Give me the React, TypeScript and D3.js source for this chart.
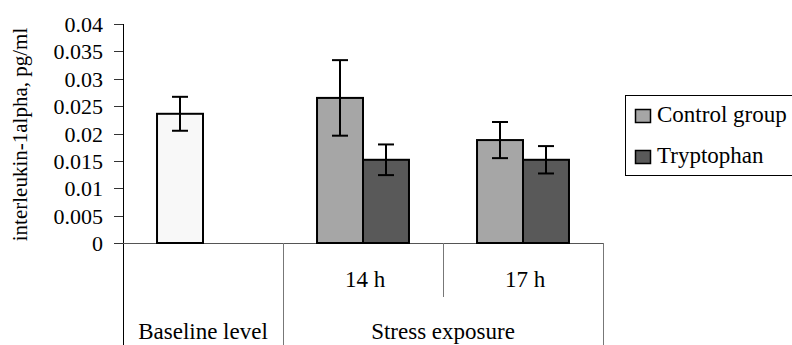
import React from "react";
import { scaleBand, scaleLinear } from "d3";

// values
const categories = ["Baseline", "14 h", "17 h"];
const groupLabels = ["Baseline level", "Stress exposure"];
const series = ["Control group", "Tryptophan"];
const yTicks = [0, 0.005, 0.01, 0.015, 0.02, 0.025, 0.03, 0.035, 0.04];

const baselineValue = [0.0236, null, null];
const baselineErr = [0.0031, null, null];
const controlValue = [null, 0.0265, 0.0188];
const controlErr = [null, 0.0069, 0.0033];
const tryptophanValue = [null, 0.0152, 0.0152];
const tryptophanErr = [null, 0.0028, 0.0025];

const width = 792;
const height = 345;
const margin = { top: 24, left: 123, right: 189, bottom: 102 };
const font = '"Liberation Serif", "Times New Roman", Times, serif';
const colors = { baseline: "#f8f8f8", control: "#a6a6a6", tryptophan: "#595959" };

const App = () => {
  const y = scaleLinear()
    .domain([0, 0.04])
    .range([height - margin.bottom, margin.top]);

  const x = scaleBand()
    .domain(categories)
    .range([margin.left, width - margin.right])
    .padding(0);

  // two bar slots per category, centred
  const slot = scaleBand()
    .domain(series)
    .range([0, x.bandwidth()])
    .paddingInner(0)
    .paddingOuter(0.74);

  const y0 = y(0);

  const bars: { key: string; x: number; v: number; e: number; fill: string }[] = [];
  categories.forEach((c, i) => {
    if (baselineValue[i] != null)
      bars.push({ key: "b" + i, x: x(c)! + slot(series[0])!, v: baselineValue[i]!, e: baselineErr[i]!, fill: colors.baseline });
    if (controlValue[i] != null)
      bars.push({ key: "c" + i, x: x(c)! + slot(series[0])!, v: controlValue[i]!, e: controlErr[i]!, fill: colors.control });
    if (tryptophanValue[i] != null)
      bars.push({ key: "t" + i, x: x(c)! + slot(series[1])!, v: tryptophanValue[i]!, e: tryptophanErr[i]!, fill: colors.tryptophan });
  });

  const bw = slot.bandwidth();
  const x1 = x(categories[1])!;
  const x2 = x(categories[2])!;
  const xEnd = x2 + x.bandwidth();
  const txt = { fontFamily: font };

  return (
    <svg
      width={width}
      height={height}
      style={{ position: "absolute", left: 0, top: 0, background: "#fff", fontFamily: font }}
    >
      {/* y axis */}
      <line x1={margin.left + 0.5} x2={margin.left + 0.5} y1={y(0.04)} y2={height} stroke="#000" />
      {yTicks.map((t) => (
        <g key={t} transform={`translate(0,${Math.round(y(t)) + 0.5})`}>
          <line x1={margin.left - 9} x2={margin.left} stroke="#333" />
          <text x={103} dy="0.34em" textAnchor="end" fontSize={22} style={txt}>
            {t}
          </text>
        </g>
      ))}
      <text
        transform={`translate(27,${(y(0.04) + y0) / 2 + 1}) rotate(-90)`}
        textAnchor="middle"
        fontSize={21}
        style={txt}
      >
        interleukin-1alpha, pg/ml
      </text>

      {/* category axis */}
      <line x1={margin.left} x2={xEnd} y1={Math.round(y0) + 0.5} y2={Math.round(y0) + 0.5} stroke="#555" />
      <line x1={x1 + 0.5} x2={x1 + 0.5} y1={y0} y2={height} stroke="#777" />
      <line x1={x2 + 0.5} x2={x2 + 0.5} y1={y0} y2={y0 + 54} stroke="#777" />
      <line x1={xEnd + 0.5} x2={xEnd + 0.5} y1={y0} y2={height} stroke="#777" />
      {categories.slice(1).map((c) => (
        <text key={c} x={x(c)! + x.bandwidth() / 2 + 2} y={287} textAnchor="middle" fontSize={23} style={txt}>
          {c}
        </text>
      ))}
      <text x={x(categories[0])! + x.bandwidth() / 2} y={339} textAnchor="middle" fontSize={23} style={txt}>
        {groupLabels[0]}
      </text>
      <text x={x1 + x.bandwidth()} y={339} textAnchor="middle" fontSize={23} style={txt}>
        {groupLabels[1]}
      </text>

      {/* bars */}
      {bars.map((b) => (
        <rect key={b.key} x={b.x} y={y(b.v)} width={bw} height={y0 - y(b.v)} fill={b.fill} stroke="#000" strokeWidth={2} />
      ))}
      {/* error bars */}
      {bars.map((b) => {
        const cx = b.x + bw / 2;
        return (
          <g key={"e" + b.key} stroke="#000" strokeWidth={2}>
            <line x1={cx} x2={cx} y1={y(b.v + b.e)} y2={y(b.v - b.e)} />
            <line x1={cx - 8} x2={cx + 8} y1={y(b.v + b.e)} y2={y(b.v + b.e)} />
            <line x1={cx - 8} x2={cx + 8} y1={y(b.v - b.e)} y2={y(b.v - b.e)} />
          </g>
        );
      })}

      {/* legend */}
      <rect x={625.5} y={95.5} width={170} height={80} fill="#fff" stroke="#000" />
      {series.map((s, i) => (
        <g key={s} transform={`translate(635,${109 + i * 41})`}>
          <rect x={0.5} y={0.5} width={15} height={13} fill={i === 0 ? colors.control : colors.tryptophan} stroke="#000" strokeWidth={1.5} />
          <text x={22} y={13} fontSize={23} style={txt}>
            {s}
          </text>
        </g>
      ))}
    </svg>
  );
};

export default App;
